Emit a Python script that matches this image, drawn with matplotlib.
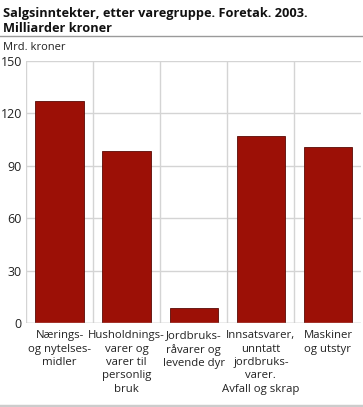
import matplotlib
matplotlib.use("Agg")
import matplotlib.pyplot as plt
from matplotlib.lines import Line2D

categories = ["Nærings-\nog nytelses-\nmidler",
              "Husholdnings-\nvarer og\nvarer til\npersonlig\nbruk",
              "Jordbruks-\nråvarer og\nlevende dyr",
              "Innsatsvarer,\nunntatt\njordbruks-\nvarer.\nAvfall og skrap",
              "Maskiner\nog utstyr"]
values = [127.0, 98.2, 8.6, 107.0, 100.7]
yticks = [0, 30, 60, 90, 120, 150]

plt.rcParams['font.family'] = ['Open Sans', 'DejaVu Sans']

W, H = 363, 407
fig = plt.figure(figsize=(W/100, H/100), dpi=100)
ax = fig.add_axes([26/W, 1-323.3/H, (361.5-26)/W, (323.3-60.7)/H])

x = list(range(len(categories)))
ax.bar(x, values, width=0.72, color='#9C1006', edgecolor='#5a0a05', linewidth=0.6, zorder=3)
ax.set_xlim(-0.5, len(categories)-0.5)
ax.set_ylim(0, 150)
ax.set_yticks(yticks)
ax.set_yticklabels([str(v) for v in yticks], fontsize=9, color='#222222')
ax.set_xticks(x)
ax.set_xticklabels(categories, fontsize=8.2, color='#222222', linespacing=1.3, va='top')
ax.tick_params(axis='both', length=0, pad=3)
ax.tick_params(axis='x', pad=5)
for s in ax.spines.values():
    s.set_visible(False)
ax.grid(axis='y', color='#d4d4d4', linewidth=1, zorder=0)
for b in [i - 0.5 for i in range(len(categories))]:
    ax.axvline(b, color='#d4d4d4', linewidth=1, zorder=0)
ax.axhline(0, color='#c8c8c8', linewidth=1, zorder=4)

fig.text(3/W, 1-7/H, "Salgsinntekter, etter varegruppe. Foretak. 2003.\nMilliarder kroner",
         fontsize=9.2, fontweight='bold', va='top', ha='left', linespacing=1.15, color='#111111')
fig.add_artist(Line2D([0, 1], [1-36/H, 1-36/H], color='#9a9a9a', linewidth=1))
fig.text(3/W, 1-47/H, "Mrd. kroner", fontsize=8, va='center', ha='left', color='#222222')
fig.add_artist(Line2D([0, 1], [1-405.5/H, 1-405.5/H], color='#cccccc', linewidth=2.5))

fig.savefig("out.png", dpi=100)
